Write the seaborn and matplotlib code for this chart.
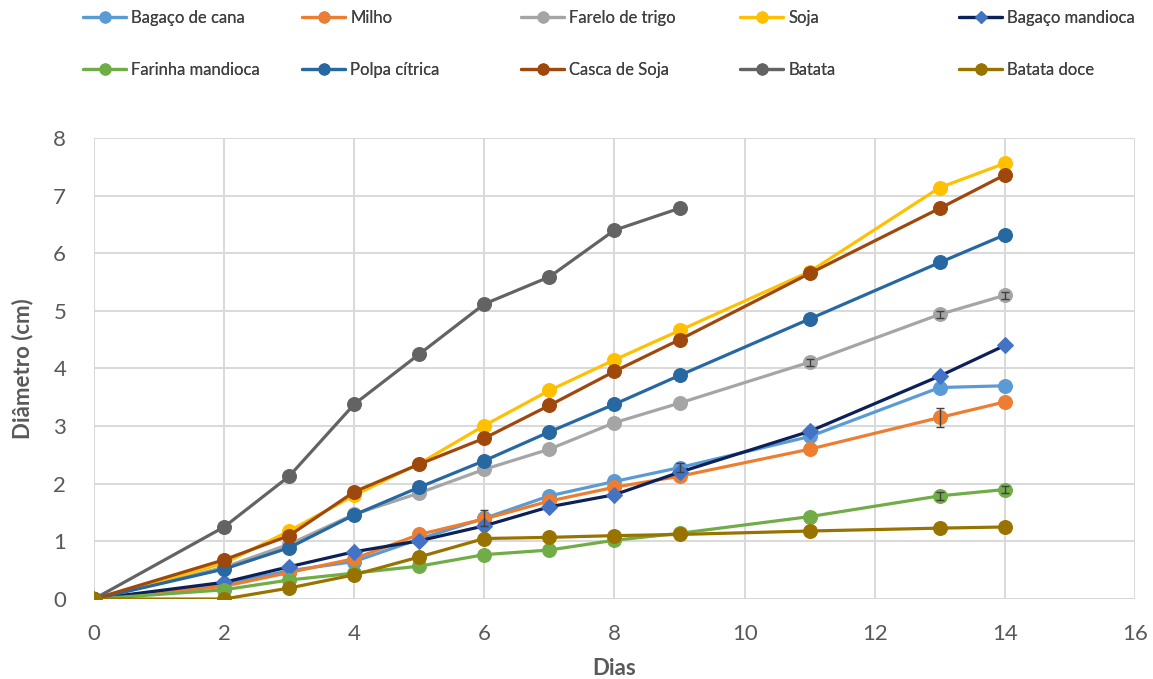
import matplotlib
matplotlib.use("Agg")
import matplotlib.pyplot as plt
import seaborn as sns
import pandas as pd

# Growth time points (days)
days = [0, 2, 3, 4, 5, 6, 7, 8, 9, 11, 13, 14]

# Mean colony diameter (cm) per substrate
bagaco_cana = [0, 0.26, 0.49, 0.65, 1.04, 1.40, 1.79, 2.04, 2.28, 2.82, 3.67, 3.70]
milho = [0, 0.22, 0.46, 0.70, 1.12, 1.39, 1.70, 1.94, 2.13, 2.60, 3.15, 3.42]
farelo_trigo = [0, 0.55, 0.95, 1.47, 1.84, 2.25, 2.60, 3.06, 3.40, 4.11, 4.94, 5.27]
soja = [0, 0.62, 1.18, 1.80, 2.35, 3.01, 3.62, 4.15, 4.66, 5.68, 7.14, 7.56]
bagaco_mandioca = [0, 0.29, 0.56, 0.82, 1.01, 1.27, 1.60, 1.81, 2.20, 2.91, 3.87, 4.40]
farinha_mandioca = [0, 0.16, 0.33, 0.45, 0.57, 0.77, 0.85, 1.02, 1.14, 1.43, 1.79, 1.90]
polpa_citrica = [0, 0.52, 0.89, 1.46, 1.94, 2.40, 2.90, 3.38, 3.88, 4.86, 5.84, 6.32]
casca_soja = [0, 0.68, 1.10, 1.86, 2.34, 2.79, 3.36, 3.95, 4.50, 5.65, 6.78, 7.36]
batata = [0, 1.25, 2.13, 3.38, 4.25, 5.12, 5.59, 6.40, 6.78]
batata_doce = [0, 0.00, 0.19, 0.42, 0.73, 1.05, 1.07, 1.10, 1.12, 1.18, 1.23, 1.25]

# Standard deviations (cm)
err_bagaco_cana = [0, 0, 0, 0, 0, 0.14, 0, 0, 0.08, 0, 0, 0]
err_milho = [0, 0, 0, 0, 0, 0, 0, 0, 0, 0, 0.17, 0]
err_farelo_trigo = [0, 0, 0, 0, 0, 0, 0, 0, 0, 0.06, 0.06, 0.06]
err_farinha_mandioca = [0, 0, 0, 0, 0, 0, 0, 0, 0, 0, 0.07, 0.06]

labels = ["Bagaço de cana", "Milho", "Farelo de trigo", "Soja", "Bagaço mandioca",
          "Farinha mandioca", "Polpa cítrica", "Casca de Soja", "Batata", "Batata doce"]
values = [bagaco_cana, milho, farelo_trigo, soja, bagaco_mandioca,
          farinha_mandioca, polpa_citrica, casca_soja, batata, batata_doce]
errors = {"Bagaço de cana": err_bagaco_cana, "Milho": err_milho,
          "Farelo de trigo": err_farelo_trigo, "Farinha mandioca": err_farinha_mandioca}

line_colors = ["#5B9BD5", "#ED7D31", "#A5A5A5", "#FFC000", "#0C2158",
               "#70AD47", "#2768A3", "#9E480E", "#636363", "#997300"]
marker_colors = list(line_colors)
marker_colors[4] = "#4472C4"
markers = ["o"] * 10
markers[4] = "D"

sns.set_theme(style="whitegrid")
plt.rcParams["font.family"] = ["Liberation Sans Narrow", "Lato", "DejaVu Sans"]

fig = plt.figure(figsize=(11.53, 6.79), dpi=100)
ax = fig.add_axes([0.0815, 0.1178, 0.9029, 0.679])

handles = []
for lab, vals, lc, mc, mk in zip(labels, values, line_colors, marker_colors, markers):
    df = pd.DataFrame({"Dias": days[:len(vals)], "Diametro": vals})
    sns.lineplot(data=df, x="Dias", y="Diametro", ax=ax, color=lc, linewidth=2.3,
                 marker=mk, markersize=10 if mk == "o" else 8,
                 markerfacecolor=mc, markeredgecolor=mc, label=lab, legend=False)
    handles.append(ax.get_lines()[-1])
    if lab in errors:
        err = errors[lab]
        idx = [i for i, e in enumerate(err) if e > 0]
        ax.errorbar([days[i] for i in idx], [vals[i] for i in idx],
                    yerr=[err[i] for i in idx], fmt="none", ecolor="#404040",
                    elinewidth=1.0, capsize=3, capthick=1.0, zorder=5)

ax.set_xlim(0, 16)
ax.set_ylim(0, 8)
ax.set_xticks(range(0, 17, 2))
ax.set_yticks(range(0, 9))
ax.grid(True, color="#D9D9D9", linewidth=1.4)
for s in ax.spines.values():
    s.set_visible(False)
ax.axhline(0, color="#BFBFBF", linewidth=1.4, zorder=0.5)
ax.axvline(0, color="#BFBFBF", linewidth=1.4, zorder=0.5)
ax.tick_params(axis="x", labelsize=16, colors="#595959", length=0, pad=18)
ax.tick_params(axis="y", labelsize=16, colors="#595959", length=0, pad=20)
ax.set_xlabel("Dias", fontsize=16, fontweight="bold", color="#595959", labelpad=10)
ax.set_ylabel("Diâmetro (cm)", fontsize=16, fontweight="bold", color="#595959", labelpad=14)

# Legend: five columns with two entries each, evenly spaced across the top
W, H = 1153, 679
for c in range(5):
    x_px = 83 + 219 * c
    leg = fig.legend([handles[c], handles[c + 5]], [labels[c], labels[c + 5]],
                     loc="upper left", bbox_to_anchor=(x_px / W, 1 - 10 / H),
                     ncol=1, frameon=False, fontsize=12, handlelength=2.6,
                     handletextpad=0.3, labelspacing=2.15, borderpad=0,
                     borderaxespad=0, markerscale=0.8)
    for t in leg.get_texts():
        t.set_color("#404040")
    fig.add_artist(leg)

fig.savefig("out.png", dpi=100)
